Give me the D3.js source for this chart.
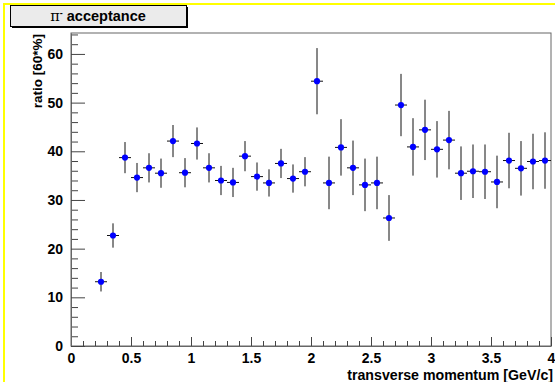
<!DOCTYPE html>
<html>
<head>
<meta charset="utf-8">
<script src="https://cdn.jsdelivr.net/npm/d3@7/dist/d3.min.js"></script>
<style>
  body { margin: 0; background: #fff; }
  svg { display: block; font-family: "Liberation Sans", Arial, sans-serif; }
</style>
</head>
<body>
<svg id="chart" width="555" height="382"></svg>
<script>
// pt bin centres [GeV/c], bin width 0.1
const binCenters = [0.25, 0.35, 0.45, 0.55, 0.65, 0.75, 0.85, 0.95, 1.05, 1.15,
    1.25, 1.35, 1.45, 1.55, 1.65, 1.75, 1.85, 1.95, 2.05, 2.15,
    2.25, 2.35, 2.45, 2.55, 2.65, 2.75, 2.85, 2.95, 3.05, 3.15,
    3.25, 3.35, 3.45, 3.55, 3.65, 3.75, 3.85, 3.95];
const ratio = [13.2, 22.7, 38.7, 34.6, 36.6, 35.5, 42.1, 35.6, 41.6, 36.6,
    34.0, 33.6, 39.0, 34.8, 33.5, 37.5, 34.4, 35.8, 54.4, 33.5,
    40.8, 36.6, 33.1, 33.5, 26.3, 49.5, 40.9, 44.4, 40.4, 42.3,
    35.5, 35.9, 35.8, 33.7, 38.1, 36.5, 37.9, 38.1];
const ratioErr = [2.0, 2.5, 3.2, 3.0, 3.0, 3.0, 3.3, 3.0, 3.3, 3.0,
    3.0, 3.0, 3.1, 2.9, 2.8, 3.0, 2.9, 3.0, 6.8, 5.4,
    5.8, 5.6, 5.4, 5.4, 4.7, 6.4, 5.9, 6.2, 5.8, 6.0,
    5.5, 5.5, 5.6, 5.4, 5.7, 5.6, 5.7, 5.8];
const binHalfWidth = 0.05;

const xMajor = [0, 0.5, 1, 1.5, 2, 2.5, 3, 3.5, 4];
const yMajor = [0, 10, 20, 30, 40, 50, 60];

const svg = d3.select("#chart");
const padLeft = 71, padRight = 551, padTop = 33, padBottom = 346;

const x = d3.scaleLinear().domain([0, 4]).range([padLeft, padRight]);
const y = d3.scaleLinear().domain([0, 64.3]).range([padBottom, padTop]);

// canvas border (yellow)
svg.append("line").attr("x1", 4).attr("x2", 555).attr("y1", 4).attr("y2", 4)
    .attr("stroke", "#ffff00").attr("stroke-width", 2);
svg.append("line").attr("x1", 4).attr("x2", 4).attr("y1", 3).attr("y2", 382)
    .attr("stroke", "#ffff00").attr("stroke-width", 2);

// frame
svg.append("rect")
    .attr("x", padLeft).attr("y", padTop)
    .attr("width", padRight - padLeft).attr("height", padBottom - padTop)
    .attr("fill", "none").attr("stroke", "#666");

// minor ticks
const xMinor = d3.range(0, 41).map(i => i / 10).filter(v => Math.round(v * 10) % 5 !== 0);
const yMinor = d3.range(0, 65, 2).filter(v => v % 10 !== 0);

svg.append("g")
    .attr("transform", `translate(0,${padBottom})`)
    .call(d3.axisBottom(x).tickValues(xMinor).tickSize(-5).tickSizeOuter(0).tickFormat(""))
    .call(g => g.select(".domain").remove());
svg.append("g")
    .attr("transform", `translate(${padLeft},0)`)
    .call(d3.axisLeft(y).tickValues(yMinor).tickSize(-7).tickSizeOuter(0).tickFormat(""))
    .call(g => g.select(".domain").remove());

// major ticks + labels
svg.append("g")
    .attr("transform", `translate(0,${padBottom})`)
    .call(d3.axisBottom(x).tickValues(xMajor).tickSize(-9).tickSizeOuter(0).tickPadding(7)
        .tickFormat(d3.format("")));
svg.append("g")
    .attr("transform", `translate(${padLeft},0)`)
    .call(d3.axisLeft(y).tickValues(yMajor).tickSize(-14).tickSizeOuter(0).tickPadding(8));

svg.selectAll(".tick line").attr("stroke", "#444");
svg.selectAll(".domain").attr("stroke", "#666");
svg.selectAll(".tick text")
    .attr("font-family", "Liberation Sans, Arial, sans-serif")
    .attr("font-size", 14).attr("font-weight", "bold").attr("fill", "#000");

// axis titles
svg.append("text")
    .attr("x", 553).attr("y", 380)
    .attr("text-anchor", "end")
    .attr("font-size", 14.2).attr("font-weight", "bold")
    .text("transverse momentum [GeV/c]");
svg.append("text")
    .attr("transform", "translate(42,34) rotate(-90)")
    .attr("text-anchor", "end")
    .attr("font-size", 13.5).attr("font-weight", "bold")
    .text("ratio [60*%]");

// error bars
const pts = binCenters.map((c, i) => ({ c, v: ratio[i], e: ratioErr[i] }));
const bars = svg.append("g").attr("stroke", "#111").attr("stroke-width", 1);
bars.selectAll(".ey").data(pts).join("line").attr("class", "ey")
    .attr("x1", d => x(d.c)).attr("x2", d => x(d.c))
    .attr("y1", d => y(d.v - d.e)).attr("y2", d => y(d.v + d.e));
bars.selectAll(".ex").data(pts).join("line").attr("class", "ex")
    .attr("x1", d => x(d.c - binHalfWidth)).attr("x2", d => x(d.c + binHalfWidth))
    .attr("y1", d => y(d.v)).attr("y2", d => y(d.v));

// markers
svg.append("g").selectAll("circle").data(pts).join("circle")
    .attr("cx", d => x(d.c)).attr("cy", d => y(d.v))
    .attr("r", 3.1).attr("fill", "#0000ff");

// title box
svg.append("rect").attr("x", 12).attr("y", 7).attr("width", 176).attr("height", 21).attr("fill", "#000");
svg.append("rect").attr("x", 10.5).attr("y", 5.5).attr("width", 176).attr("height", 21)
    .attr("fill", "#ebebeb").attr("stroke", "#000");
const title = svg.append("text")
    .attr("x", 98).attr("y", 21)
    .attr("text-anchor", "middle")
    .attr("font-size", 14.5).attr("font-weight", "bold");
title.append("tspan").attr("font-family", "DejaVu Serif, serif").attr("font-weight", "normal").text("π");
title.append("tspan").attr("dy", -5).attr("font-size", 9).text("-");
title.append("tspan").attr("dy", 5).text(" acceptance");
</script>
</body>
</html>
